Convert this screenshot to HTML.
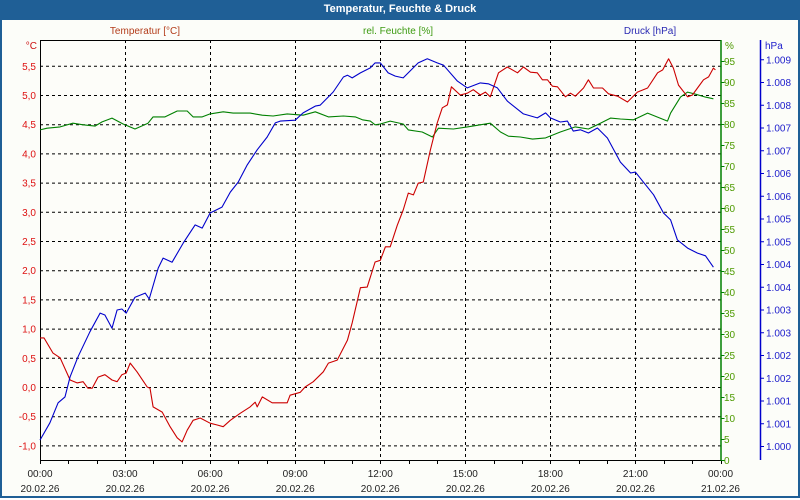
<!DOCTYPE html>
<html><head><meta charset="utf-8">
<style>
html,body{margin:0;padding:0;}
body{width:800px;height:500px;overflow:hidden;background:#fff;font-family:"Liberation Sans",Tahoma,sans-serif;}
#wrap{position:absolute;left:0;top:0;width:796px;height:496px;border:2px solid #1f5f96;border-top:none;background:#fcfdf9;}
#title{position:absolute;left:0;top:0;width:800px;height:20px;background:#1f5f96;color:#fff;font-weight:bold;font-size:11px;line-height:19px;text-align:center;}
svg{position:absolute;left:0;top:0;}
</style></head><body>
<div id="wrap"></div>
<div id="title">Temperatur, Feuchte &amp; Druck</div>
<svg id="chart" width="800" height="500"></svg>
<script>
const tempHours=[0,0.14,0.46,0.71,1.06,1.31,1.52,1.69,1.84,2.05,2.29,2.54,2.72,2.89,3.04,3.18,3.42,3.78,3.88,3.99,4.31,4.59,4.84,5.01,5.19,5.40,5.65,6.0,6.25,6.46,6.71,7.06,7.41,7.59,7.66,7.84,8.19,8.72,8.82,9.18,9.35,9.64,9.99,10.17,10.48,10.84,11.01,11.30,11.54,11.82,12.0,12.18,12.35,12.6,12.81,12.99,13.17,13.34,13.52,13.77,14.01,14.19,14.37,14.51,14.82,15.07,15.28,15.53,15.71,15.88,16.17,16.48,16.84,17.05,17.30,17.54,17.72,17.90,18.07,18.25,18.53,18.71,18.88,19.17,19.34,19.52,19.84,20.05,20.37,20.72,21.07,21.43,21.78,21.96,22.17,22.34,22.52,22.84,23.01,23.19,23.40,23.58,23.75,23.82];
const tempValues=[0.84,0.84,0.58,0.50,0.12,0.07,0.09,-0.02,-0.02,0.17,0.21,0.12,0.09,0.21,0.24,0.41,0.26,0.0,-0.02,-0.34,-0.43,-0.68,-0.87,-0.94,-0.74,-0.57,-0.53,-0.62,-0.65,-0.68,-0.57,-0.45,-0.34,-0.26,-0.34,-0.17,-0.27,-0.27,-0.14,-0.09,0.0,0.09,0.26,0.41,0.46,0.80,1.10,1.70,1.71,2.14,2.17,2.40,2.40,2.77,3.03,3.32,3.29,3.49,3.51,4.06,4.52,4.78,4.83,5.14,5.00,5.03,5.09,5.00,5.05,4.97,5.38,5.48,5.38,5.48,5.39,5.38,5.26,5.26,5.15,5.14,4.97,5.03,4.98,5.12,5.26,5.12,5.12,5.02,4.98,4.88,5.05,5.12,5.38,5.43,5.62,5.46,5.17,4.97,5.00,5.12,5.26,5.31,5.46,5.43];
const humHours=[0,0.25,0.71,1.16,1.52,1.94,2.19,2.54,2.93,3.35,3.81,3.99,4.41,4.84,5.19,5.40,5.72,6.0,6.46,6.81,7.41,7.84,8.22,8.72,9.28,9.71,10.17,10.7,11.12,11.37,11.65,11.82,12.0,12.35,12.81,12.99,13.48,13.84,14.05,14.58,15.07,15.88,16.24,16.52,16.94,17.37,17.83,18.35,18.88,19.34,19.66,20.12,20.47,20.93,21.43,22.13,22.24,22.59,22.84,23.12,23.47,23.75];
const humValues=[78.6,79.0,79.3,80.2,79.8,79.5,80.5,81.4,80.0,78.8,80.2,81.7,81.7,83.1,83.1,81.7,81.7,82.4,82.9,82.6,82.6,82.1,81.9,82.4,82.1,82.9,81.7,81.9,81.7,81.0,80.7,79.8,80.0,80.7,80.0,78.6,78.1,76.9,79.0,78.8,79.3,80.2,78.1,77.1,76.9,76.4,76.7,78.1,79.3,78.8,79.8,81.4,81.2,81.0,82.6,80.7,82.6,86.4,87.6,87.1,86.4,86.0];
const presHours=[0,0.35,0.64,0.88,1.06,1.34,1.76,2.12,2.29,2.54,2.72,2.89,3.04,3.35,3.71,3.85,4.17,4.34,4.66,5.05,5.47,5.72,6.0,6.42,6.71,6.99,7.31,7.66,8.01,8.30,8.47,9.0,9.28,9.71,9.88,10.34,10.70,10.84,11.01,11.30,11.65,11.82,12.0,12.28,12.53,12.81,13.34,13.66,14.01,14.23,14.72,15.07,15.53,15.81,16.13,16.48,17.05,17.54,17.83,18.0,18.35,18.60,18.81,19.06,19.34,19.66,20.01,20.47,20.83,21.0,21.36,21.64,21.99,22.24,22.48,22.84,23.19,23.47,23.75];
const presValues=[1000.13,1000.51,1000.95,1001.08,1001.52,1001.96,1002.51,1002.92,1002.88,1002.59,1002.99,1003.01,1002.92,1003.27,1003.36,1003.23,1003.91,1004.13,1004.04,1004.46,1004.86,1004.79,1005.12,1005.25,1005.58,1005.80,1006.18,1006.51,1006.79,1007.10,1007.14,1007.16,1007.32,1007.47,1007.49,1007.78,1008.11,1008.15,1008.09,1008.20,1008.31,1008.42,1008.42,1008.20,1008.13,1008.09,1008.42,1008.51,1008.42,1008.37,1008.02,1007.87,1007.98,1007.96,1007.87,1007.58,1007.30,1007.21,1007.32,1007.21,1007.12,1007.14,1006.92,1006.95,1006.88,1006.99,1006.77,1006.24,1006.00,1006.02,1005.74,1005.52,1005.12,1004.97,1004.53,1004.35,1004.24,1004.18,1003.93];
const tempTicks=[5.5,5.0,4.5,4.0,3.5,3.0,2.5,2.0,1.5,1.0,0.5,0.0,-0.5,-1.0];
const humTicks=[0,5,10,15,20,25,30,35,40,45,50,55,60,65,70,75,80,85,90,95];
const presTicks=[1000,1000.5,1001,1001.5,1002,1002.5,1003,1003.5,1004,1004.5,1005,1005.5,1006,1006.5,1007,1007.5,1008,1008.5];
const timeLabels=["00:00","03:00","06:00","09:00","12:00","15:00","18:00","21:00","00:00"];
const dateLabels=["20.02.26","20.02.26","20.02.26","20.02.26","20.02.26","20.02.26","20.02.26","20.02.26","21.02.26"];

const L=40,R=720.5,T=40,B=460;
const xS=h=>L+(R-L)*h/24;
const yT=v=>387-v*58.4;
const yH=v=>B-v*4.2;
const yP=v=>446-(v-1000)*45.5;
const svg=document.getElementById('chart');
const NS='http://www.w3.org/2000/svg';
function mk(tag,attrs,parent){const e=document.createElementNS(NS,tag);for(const k in attrs)e.setAttribute(k,attrs[k]);(parent||svg).appendChild(e);return e;}
function txt(s,x,y,anchor,fill,size){const e=mk('text',{x:x,y:y,'text-anchor':anchor,fill:fill,'font-size':size||10,'font-family':'Liberation Sans, sans-serif'});e.textContent=s;return e;}

const bg=mk('rect',{x:L,y:T,width:R-L,height:B-T,fill:'#fdfdf9'});


tempTicks.forEach(v=>{const g=mk('line',{x1:L,x2:R,y1:yT(v)+0.5,y2:yT(v)+0.5,stroke:'#000','stroke-dasharray':'3,3','stroke-width':1});

});
for(let h=3;h<24;h+=3){const g=mk('line',{x1:Math.round(xS(h))+0.5,x2:Math.round(xS(h))+0.5,y1:T,y2:B,stroke:'#000','stroke-dasharray':'3,3','stroke-width':1});

}
mk('line',{x1:L,x2:R,y1:T+0.5,y2:T+0.5,stroke:'#000'});
mk('line',{x1:L+0.5,x2:L+0.5,y1:T,y2:B,stroke:'#000'});
mk('line',{x1:L,x2:R,y1:B+0.5,y2:B+0.5,stroke:'#000'});
for(let h=0;h<=24;h++){mk('line',{x1:Math.round(xS(h))+0.5,x2:Math.round(xS(h))+0.5,y1:B,y2:B+4,stroke:'#000'});}
mk('line',{x1:R+0.5,x2:R+0.5,y1:T,y2:B,stroke:'#008000','stroke-width':1.5});
humTicks.forEach(v=>{mk('line',{x1:R,x2:R+4,y1:yH(v)+0.5,y2:yH(v)+0.5,stroke:'#008000'});
const t=txt(String(v),724,yH(v)+4,'start','#4d9a00');

});
mk('line',{x1:760.5,x2:760.5,y1:T,y2:B,stroke:'#0000cc','stroke-width':1.5});
presTicks.forEach(v=>{mk('line',{x1:760,x2:764,y1:yP(v)+0.5,y2:yP(v)+0.5,stroke:'#0000cc'});
const t=txt('1.'+String(Math.round(v)).slice(1),766,yP(v)+4,'start','#2020cc');

});
tempTicks.forEach(v=>{const t=txt(v.toFixed(1).replace('.',','),36,yT(v)+4,'end','#dd1111');

});
timeLabels.forEach((s,i)=>{const x=xS(i*3);
const a=txt(s,x,477,'middle','#222');


const b=txt(dateLabels[i],x,492,'middle','#222');

});
let u=txt('°C',37,49,'end','#cc1111');
u=txt('%',725,49,'start','#4d9a00');
u=txt('hPa',765,49,'start','#2020cc');
u=txt('Temperatur [°C]',145,34,'middle','#b33c1a');
u=txt('rel. Feuchte [%]',398,34,'middle','#3c9a10');
u=txt('Druck [hPa]',650,34,'middle','#2a2ab3');
function line(hs,vs,yf,color,name){const d=hs.map((h,i)=>(i?'L':'M')+xS(h).toFixed(1)+' '+yf(vs[i]).toFixed(1)).join(' ');
const p=mk('path',{d:d,fill:'none',stroke:color,'stroke-width':1.1,'stroke-linejoin':'round'});

}
line(humHours,humValues,yH,'#008000','humidity-line');
line(tempHours,tempValues,yT,'#cc0000','temperature-line');
line(presHours,presValues,yP,'#0000cc','pressure-line');
</script>
</body></html>
